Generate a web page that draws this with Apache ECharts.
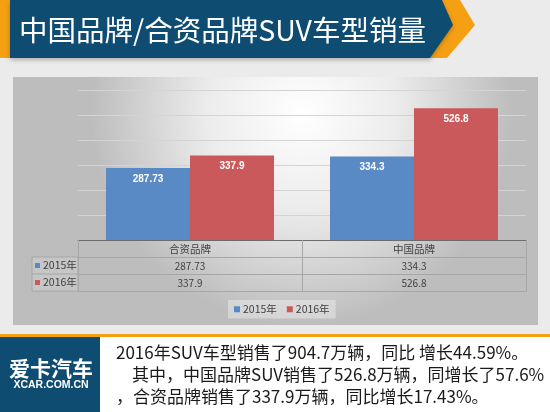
<!DOCTYPE html>
<html>
<head>
<meta charset="utf-8">
<script src="https://cdn.jsdelivr.net/npm/echarts@6/dist/echarts.min.js"></script>
<style>
  html, body { margin: 0; padding: 0; background: #ebebeb; }
  #chart { width: 550px; height: 412px; }
</style>
</head>
<body>
<div id="chart"></div>
<script>
  // data
  var categories = ['合资品牌', '中国品牌'];
  var seriesNames = ['2015年', '2016年'];
  var sales2015 = [287.73, 334.3];
  var sales2016 = [337.9, 526.8];
  var yMax = 600;
  var yStep = 100;

  var titleText = '中国品牌/合资品牌SUV车型销量';
  var noteLines = [
    '2016年SUV车型销售了904.7万辆，同比 增长44.59%。',
    '其中，中国品牌SUV销售了526.8万辆，同增长了57.6%',
    '，合资品牌销售了337.9万辆，同比增长17.43%。'
  ];
  var logoName = '爱卡汽车';
  var logoUrl = 'XCAR.COM.CN';

  var blue = '#5a8ac6';
  var red = '#c9595a';
  var navy = '#0f4c71';
  var orange = '#f5a013';
  var cjk = '"Noto Sans CJK SC", sans-serif';

  var dom = document.getElementById('chart');
  var myChart = echarts.init(dom, null, { renderer: 'canvas' });

  // table row header cells (left column)
  var rowHeader = [];
  [sales2015, sales2016].forEach(function (arr, i) {
    var cy = 257 + i * 17 + 8.5;
    rowHeader.push({
      type: 'rect', z: 5,
      shape: { x: 35, y: cy - 2.5, width: 5, height: 5 },
      style: { fill: i === 0 ? blue : red }
    });
    rowHeader.push({
      type: 'text', z: 5, x: 43, y: cy,
      style: { text: seriesNames[i], fill: '#404040', font: '10.5px ' + cjk, textVerticalAlign: 'middle' }
    });
  });

  var option = {
    backgroundColor: '#ebebeb',
    animation: false,
    grid: { left: 78, top: 90, width: 448, height: 150 },
    legend: {
      data: seriesNames,
      left: 228, top: 300,
      icon: 'rect', itemWidth: 6, itemHeight: 6, itemGap: 10,
      padding: [4, 6],
      backgroundColor: 'rgba(255,255,255,0.35)',
      textStyle: { fontSize: 10.5, color: '#404040', fontFamily: cjk, padding: [0, 0, 0, -2] }
    },
    xAxis: [
      {
        type: 'category', data: categories, position: 'bottom',
        axisLine: { lineStyle: { color: '#6b6b6b', width: 1 } },
        axisTick: { show: true, length: 51, interval: 0, lineStyle: { color: '#a6a6a6' } },
        axisLabel: { margin: 4, fontSize: 10.5, color: '#404040', fontFamily: cjk, interval: 0 },
        splitLine: { show: false }
      },
      {
        type: 'category', data: sales2015.map(String), position: 'bottom', offset: 17,
        axisLine: { lineStyle: { color: '#a6a6a6' } },
        axisTick: { show: false },
        axisLabel: { margin: 4, fontSize: 10, color: '#404040', fontFamily: cjk, interval: 0 }
      },
      {
        type: 'category', data: sales2016.map(String), position: 'bottom', offset: 34,
        axisLine: { lineStyle: { color: '#a6a6a6' } },
        axisTick: { show: false },
        axisLabel: { margin: 4, fontSize: 10, color: '#404040', fontFamily: cjk, interval: 0 }
      },
      {
        type: 'category', data: categories, position: 'bottom', offset: 51,
        axisLine: { lineStyle: { color: '#a6a6a6' } },
        axisTick: { show: false },
        axisLabel: { show: false }
      }
    ],
    yAxis: {
      type: 'value', min: 0, max: yMax, interval: yStep,
      axisLine: { show: false }, axisTick: { show: false }, axisLabel: { show: false },
      splitLine: { lineStyle: { color: '#d4d4d4' } }
    },
    series: [
      {
        name: seriesNames[0], type: 'bar', data: sales2015,
        barGap: 0, barCategoryGap: '25%',
        itemStyle: { color: blue },
        label: { show: true, position: 'insideTop', distance: 6, color: '#fff', fontWeight: 'bold', fontSize: 10, fontFamily: 'Liberation Sans' }
      },
      {
        name: seriesNames[1], type: 'bar', data: sales2016,
        barGap: 0, barCategoryGap: '25%',
        itemStyle: { color: red },
        label: { show: true, position: 'insideTop', distance: 6, color: '#fff', fontWeight: 'bold', fontSize: 10, fontFamily: 'Liberation Sans' }
      }
    ],
    graphic: [
      // chart panel
      {
        type: 'rect', z: -10, silent: true,
        shape: { x: 13, y: 77, width: 525, height: 248 },
        style: {
          fill: new echarts.graphic.RadialGradient(0.55, 0.15, 0.85, [
            { offset: 0, color: '#ffffff' },
            { offset: 0.45, color: '#ececec' },
            { offset: 1, color: '#bdbdbd' }
          ])
        }
      },
      // title bar
      { type: 'rect', z: 10, shape: { x: 0, y: 0, width: 10, height: 58 }, style: { fill: orange } },
      {
        type: 'polygon', z: 10,
        shape: { points: [[441, 0], [460, 0], [475, 25], [447, 58], [430, 58]] },
        style: { fill: orange }
      },
      {
        type: 'polygon', z: 11,
        shape: { points: [[10, 0], [442, 0], [453, 25], [430, 58], [10, 58]] },
        style: { fill: navy, shadowBlur: 4, shadowColor: 'rgba(0,0,0,0.25)', shadowOffsetY: 2 }
      },
      {
        type: 'text', z: 12, x: 19, y: 30,
        style: { text: titleText, fill: '#ffffff', font: '28.5px ' + cjk, textVerticalAlign: 'middle' }
      },
      // bottom strip
      { type: 'rect', z: 10, shape: { x: 0, y: 334, width: 550, height: 3 }, style: { fill: orange } },
      { type: 'rect', z: 10, shape: { x: 100, y: 337, width: 450, height: 75 }, style: { fill: '#ffffff' } },
      { type: 'rect', z: 10, shape: { x: 0, y: 337, width: 100, height: 75 }, style: { fill: navy } },
      {
        type: 'text', z: 11, x: 51, y: 368,
        style: { text: logoName, fill: '#ffffff', font: 'bold 21px ' + cjk, textAlign: 'center', textVerticalAlign: 'middle' }
      },
      {
        type: 'text', z: 11, x: 51, y: 385,
        style: { text: logoUrl, fill: '#ffffff', font: 'bold 10.5px "Liberation Sans"', textAlign: 'center', textVerticalAlign: 'middle' }
      },
      {
        type: 'text', z: 11, x: 116, y: 353,
        style: { text: noteLines[0], fill: '#1a1a1a', font: '17px ' + cjk, textVerticalAlign: 'middle' }
      },
      {
        type: 'text', z: 11, x: 132, y: 375,
        style: { text: noteLines[1], fill: '#1a1a1a', font: '17px ' + cjk, textVerticalAlign: 'middle' }
      },
      {
        type: 'text', z: 11, x: 116, y: 397,
        style: { text: noteLines[2], fill: '#1a1a1a', font: '17px ' + cjk, textVerticalAlign: 'middle' }
      },
      // table row header column
      {
        type: 'rect', z: 5,
        shape: { x: 32, y: 257, width: 46, height: 34 },
        style: { fill: 'rgba(255,255,255,0.15)', stroke: '#a6a6a6', lineWidth: 1 }
      },
      {
        type: 'line', z: 5,
        shape: { x1: 32, y1: 274, x2: 78, y2: 274 },
        style: { stroke: '#a6a6a6', lineWidth: 1 }
      }
    ].concat(rowHeader)
  };

  myChart.setOption(option, true);
</script>
</body>
</html>
